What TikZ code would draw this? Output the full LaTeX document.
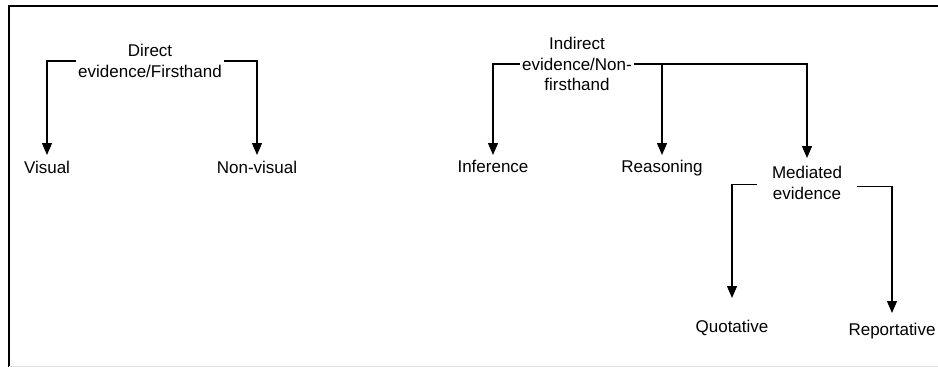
\documentclass[tikz,border=0pt]{standalone}
\usepackage{fontspec}
\setmainfont{Liberation Sans}
\usetikzlibrary{arrows.meta}
\begin{document}
\begin{tikzpicture}[x=1pt,y=-1pt,
  lbl/.style={font=\fontsize{17}{20.5}\selectfont, align=center, inner xsep=2pt, inner ysep=0pt},
  leaf/.style={lbl, anchor=north, text height=12.2pt},
  arr/.style={line width=1.3pt, -{Triangle[width=10pt,length=12pt]}},
  frame/.style={line width=2.5pt}]
\useasboundingbox (0,0) rectangle (938,367);
% frame
\draw[frame] (9,367) -- (9,6) -- (938,6);
\draw[black!12, line width=1pt] (9,366.5) -- (938,366.5);
% left tree
\node[lbl] (direct) at (150,61) {Direct\\evidence/Firsthand};
\node[leaf, inner ysep=6pt] (visual) at (47,155) {Visual};
\node[leaf, inner ysep=6pt] (nonvisual) at (257,155) {Non-visual};
\draw[arr] (direct.west) -| (visual.north);
\draw[arr] (direct.east) -| (nonvisual.north);
% right tree
\node[lbl] (indirect) at (577,64) {Indirect\\evidence/Non-\\firsthand};
\node[leaf, inner ysep=5pt] (inference) at (493,155) {Inference};
\node[leaf, inner ysep=5pt] (reasoning) at (662,155) {Reasoning};
\node[lbl, anchor=north, inner xsep=15pt, inner ysep=8pt] (mediated) at (807,158) {Mediated\\evidence};
\draw[arr] (indirect.west) -| (inference.north);
\draw[arr] (indirect.east) -| (mediated.north);
\draw[arr] (indirect.east -| reasoning.north) -- (reasoning.north);
% mediated subtree
\node[leaf, inner ysep=22pt] (quotative) at (732,298) {Quotative};
\node[leaf, inner ysep=10pt] (reportative) at (892,313) {Reportative};
\draw[arr] ([yshift=-2pt]mediated.west) -| (quotative.north);
\draw[arr] ([yshift=-4pt]mediated.east) -| (reportative.north);
\end{tikzpicture}
\end{document}
